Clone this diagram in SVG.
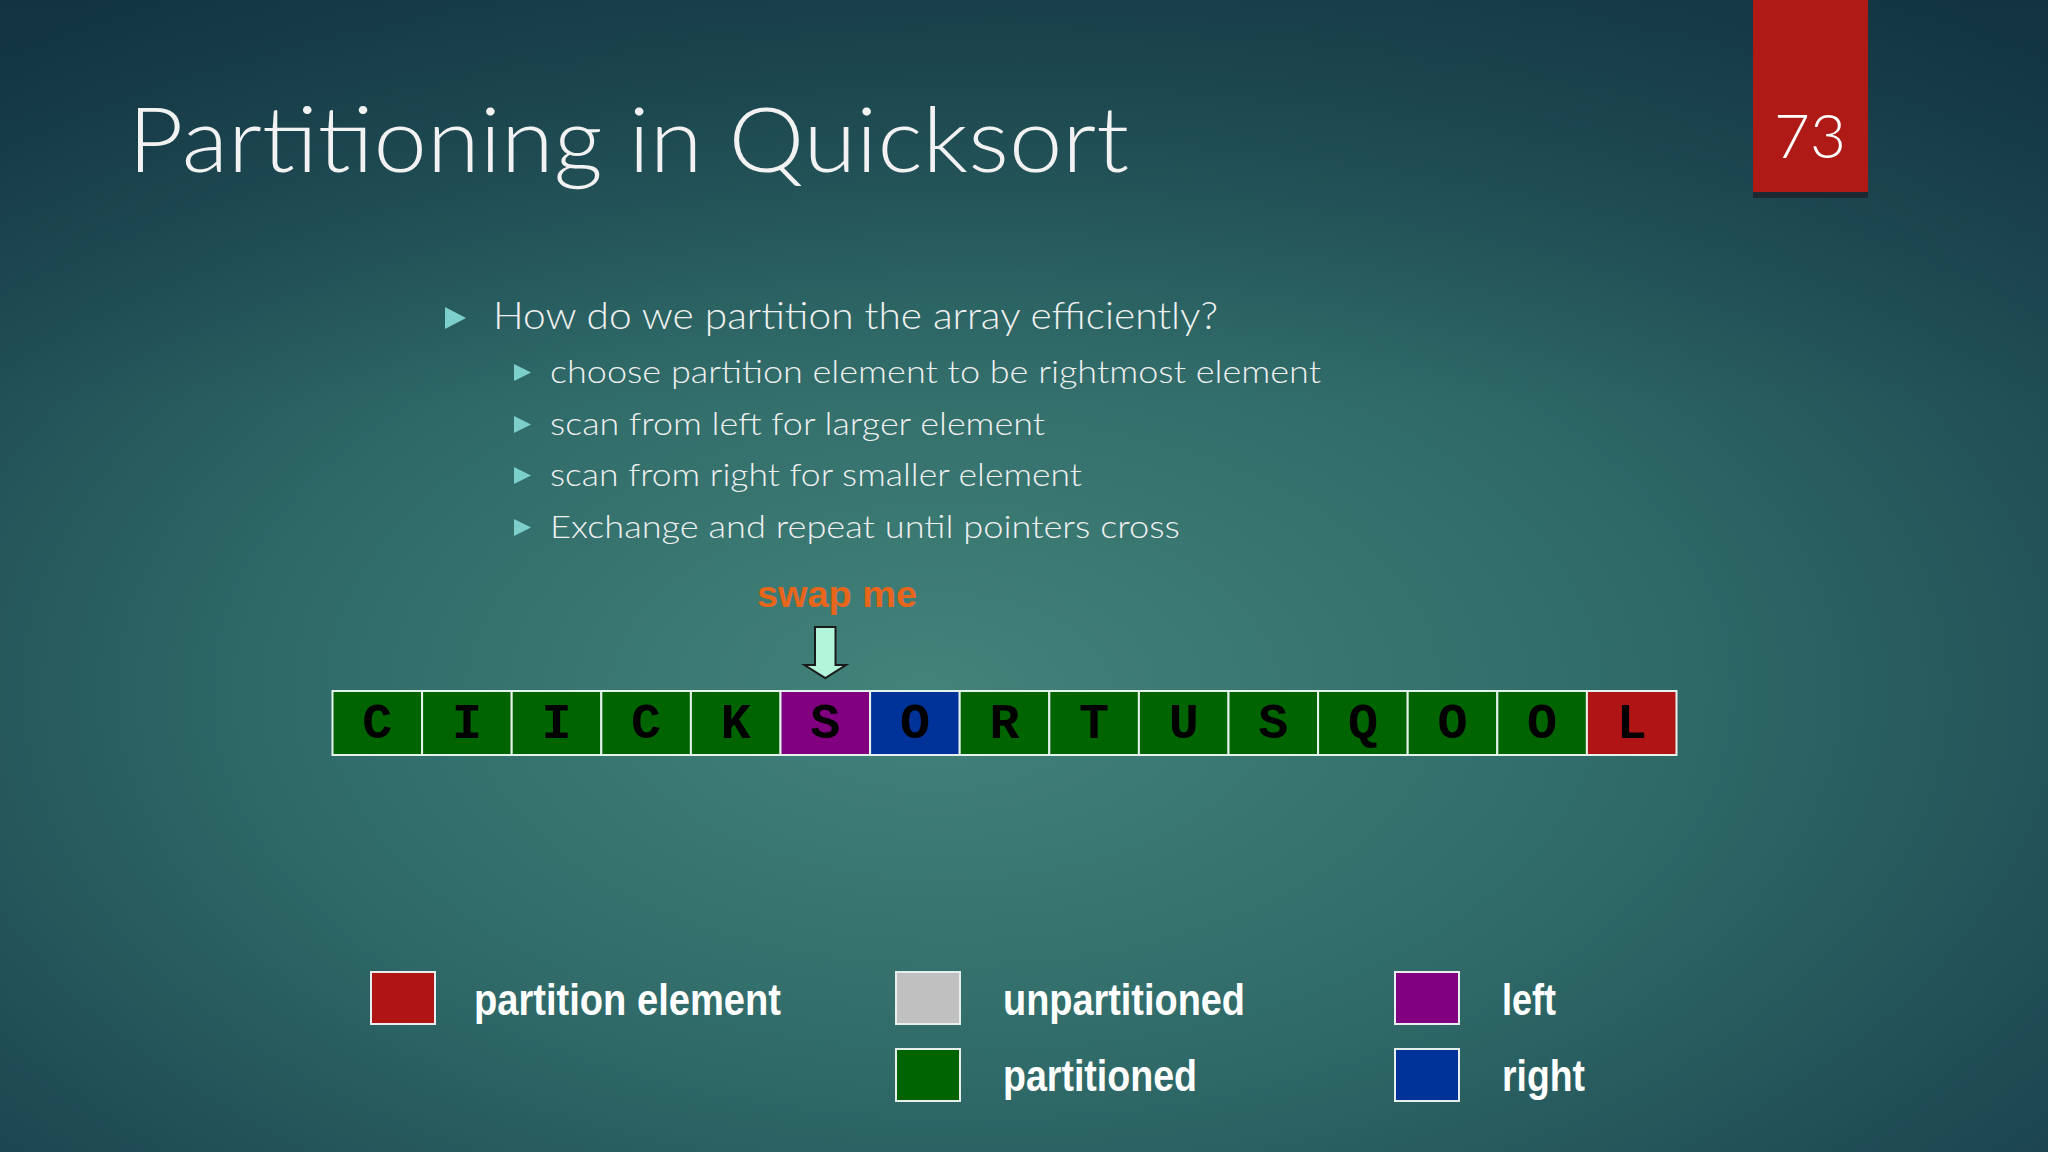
<svg xmlns="http://www.w3.org/2000/svg" width="2048" height="1152" viewBox="0 0 2048 1152">
<defs>
<radialGradient id="bg" cx="0.5" cy="0.6" r="0.75" fx="0.45" fy="0.6">
<stop offset="0" stop-color="#43837a"/>
<stop offset="0.45" stop-color="#2f6a68"/>
<stop offset="1" stop-color="#153847"/>
</radialGradient>
<linearGradient id="topshade" x1="0" y1="0" x2="0" y2="1">
<stop offset="0" stop-color="#0f2f3c" stop-opacity="0.4"/>
<stop offset="0.35" stop-color="#0f2f3c" stop-opacity="0"/>
</linearGradient>
<style>
.title{font-family:Lato,"Liberation Sans",sans-serif;font-weight:300;fill:#f2f2f2}
.b1{font-family:Lato,"Liberation Sans",sans-serif;font-weight:300;font-size:37px;fill:#f0f0f0}
.b2{font-family:Lato,"Liberation Sans",sans-serif;font-weight:300;font-size:31px;fill:#f0f0f0}
.tri{fill:#7ccfcb}
.cell{stroke:#e6f2ec;stroke-width:2}
.g{fill:#006400}.p{fill:#800080}.bl{fill:#003399}.r{fill:#b01515}.u{fill:#c0c0c0}
.ch{font-family:"Liberation Mono","Courier New",monospace;font-weight:bold;font-size:50px;fill:#000;text-anchor:middle}
.lg{font-family:"Liberation Sans",Arial,sans-serif;font-weight:bold;font-size:44px;fill:#ffffff}
.lbox{stroke:#e8eeee;stroke-width:2}
</style>
</defs>
<rect width="2048" height="1152" fill="url(#bg)"/>
<rect width="2048" height="1152" fill="url(#topshade)"/>

<g id="title">
<text class="title" x="128" y="172" font-size="90" textLength="1001" lengthAdjust="spacingAndGlyphs">Partitioning in Quicksort</text>
</g>

<g id="slide-number">
<rect x="1753" y="192" width="115" height="6" fill="#1a2a30"/>
<rect x="1753" y="0" width="115" height="192" fill="#b01a16"/>
<text x="1810" y="158" font-family="Lato,'Liberation Sans',sans-serif" font-weight="300" font-size="62" fill="#ffffff" text-anchor="middle">73</text>
</g>

<g id="bullets">
<polygon class="tri" points="445,307 466,318 445,329"/>
<text class="b1" x="493" y="329" textLength="725" lengthAdjust="spacingAndGlyphs">How do we partition the array efficiently?</text>
<polygon class="tri" points="514,364 531,372.5 514,381"/>
<text class="b2" x="550" y="383" textLength="771" lengthAdjust="spacingAndGlyphs">choose partition element to be rightmost element</text>
<polygon class="tri" points="514,416 531,424.5 514,433"/>
<text class="b2" x="550" y="435" textLength="495" lengthAdjust="spacingAndGlyphs">scan from left for larger element</text>
<polygon class="tri" points="514,467 531,475.5 514,484"/>
<text class="b2" x="550" y="486" textLength="532" lengthAdjust="spacingAndGlyphs">scan from right for smaller element</text>
<polygon class="tri" points="514,519 531,527.5 514,536"/>
<text class="b2" x="550" y="538" textLength="630" lengthAdjust="spacingAndGlyphs">Exchange and repeat until pointers cross</text>
</g>

<g id="swap-label">
<text x="837" y="607" font-family="'Liberation Sans',Arial,sans-serif" font-weight="bold" font-size="37" fill="#e8661c" text-anchor="middle" textLength="160" lengthAdjust="spacingAndGlyphs">swap me</text>
</g>

<g id="connectors">
<polygon points="815,627 835.5,627 835.5,665 846,665 825.3,678 804.5,665 815,665" fill="#b2f5da" stroke="#1a1a1a" stroke-width="2" stroke-linejoin="miter"/>
</g>

<g id="array">
<g id="cell0"><rect class="cell g" x="332.5" y="691" width="89.6" height="64"/><text class="ch" x="377.3" y="738">C</text></g>
<g id="cell1"><rect class="cell g" x="422.1" y="691" width="89.6" height="64"/><text class="ch" x="466.9" y="738">I</text></g>
<g id="cell2"><rect class="cell g" x="511.7" y="691" width="89.6" height="64"/><text class="ch" x="556.5" y="738">I</text></g>
<g id="cell3"><rect class="cell g" x="601.3" y="691" width="89.6" height="64"/><text class="ch" x="646.1" y="738">C</text></g>
<g id="cell4"><rect class="cell g" x="690.9" y="691" width="89.6" height="64"/><text class="ch" x="735.7" y="738">K</text></g>
<g id="cell5"><rect class="cell p" x="780.5" y="691" width="89.6" height="64"/><text class="ch" x="825.3" y="738">S</text></g>
<g id="cell6"><rect class="cell bl" x="870.1" y="691" width="89.6" height="64"/><text class="ch" x="914.9" y="738">O</text></g>
<g id="cell7"><rect class="cell g" x="959.7" y="691" width="89.6" height="64"/><text class="ch" x="1004.5" y="738">R</text></g>
<g id="cell8"><rect class="cell g" x="1049.3" y="691" width="89.6" height="64"/><text class="ch" x="1094.1" y="738">T</text></g>
<g id="cell9"><rect class="cell g" x="1138.9" y="691" width="89.6" height="64"/><text class="ch" x="1183.7" y="738">U</text></g>
<g id="cell10"><rect class="cell g" x="1228.5" y="691" width="89.6" height="64"/><text class="ch" x="1273.3" y="738">S</text></g>
<g id="cell11"><rect class="cell g" x="1318.1" y="691" width="89.6" height="64"/><text class="ch" x="1362.9" y="738">Q</text></g>
<g id="cell12"><rect class="cell g" x="1407.7" y="691" width="89.6" height="64"/><text class="ch" x="1452.5" y="738">O</text></g>
<g id="cell13"><rect class="cell g" x="1497.3" y="691" width="89.6" height="64"/><text class="ch" x="1542.1" y="738">O</text></g>
<g id="cell14"><rect class="cell r" x="1586.9" y="691" width="89.6" height="64"/><text class="ch" x="1631.7" y="738">L</text></g>
</g>

<g id="legend-partition-element">
<rect class="lbox r" x="371" y="972" width="64" height="52"/>
<text class="lg" x="474" y="1015" textLength="307" lengthAdjust="spacingAndGlyphs">partition element</text>
</g>
<g id="legend-unpartitioned">
<rect class="lbox u" x="896" y="972" width="64" height="52"/>
<text class="lg" x="1003" y="1015" textLength="242" lengthAdjust="spacingAndGlyphs">unpartitioned</text>
</g>
<g id="legend-partitioned">
<rect class="lbox g" x="896" y="1049" width="64" height="52"/>
<text class="lg" x="1003" y="1091" textLength="194" lengthAdjust="spacingAndGlyphs">partitioned</text>
</g>
<g id="legend-left">
<rect class="lbox p" x="1395" y="972" width="64" height="52"/>
<text class="lg" x="1502" y="1015" textLength="54" lengthAdjust="spacingAndGlyphs">left</text>
</g>
<g id="legend-right">
<rect class="lbox bl" x="1395" y="1049" width="64" height="52"/>
<text class="lg" x="1502" y="1091" textLength="83" lengthAdjust="spacingAndGlyphs">right</text>
</g>
</svg>
